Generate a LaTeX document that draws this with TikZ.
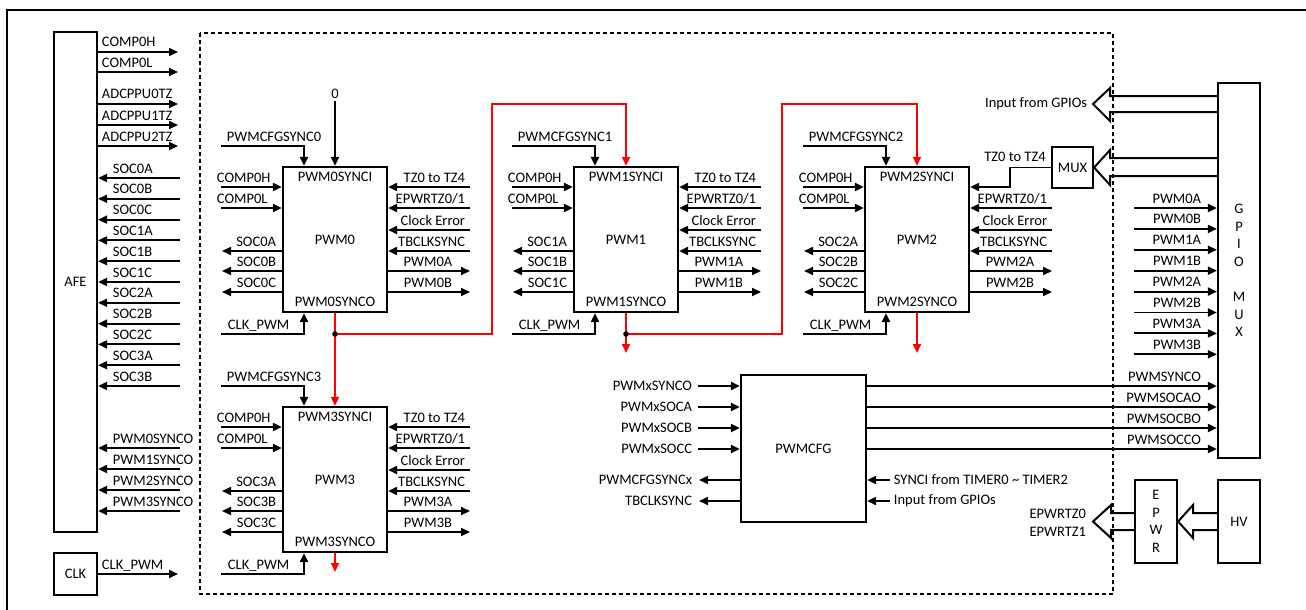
\documentclass[tikz,border=0pt]{standalone}
\usepackage{fontspec}
\setmainfont{Carlito}
\usetikzlibrary{arrows.meta}
\definecolor{syncred}{RGB}{255,0,0}

\begin{document}
\begin{tikzpicture}[
    x=1pt, y=-1pt,
    font=\fontsize{14.5}{17.6}\selectfont,
    >={Triangle[length=9pt, width=8pt]},
    line width=1.9pt,
    box/.style={draw, line width=2.2pt, inner sep=0pt, align=center},
    lbl/.style={inner sep=0pt, anchor=base west},
    rlbl/.style={inner sep=0pt, anchor=base east},
    clbl/.style={inner sep=0pt, anchor=base},
    elbl/.style={inner sep=0pt, anchor=east},
    wlbl/.style={inner sep=0pt, anchor=west},
    sync/.style={draw=syncred, line width=1.7pt},
    hollow/.style={line width=2pt, line join=miter}
]

% ============================================================
% Canvas
% ============================================================
\useasboundingbox (0,0) rectangle (1306,610);
\draw[line width=2.2pt] (7,610) -- (7,10) -- (1306,10);

% Core region
\draw[line width=2.6pt, dash pattern=on 4pt off 3pt] (200,33) rectangle (1113,594);

% ============================================================
% LEFT: AFE and CLK
% ============================================================
\node[box, minimum width=43, minimum height=500] (afe) at (75.5,282) {AFE};
\node[box, minimum width=43, minimum height=42] (clk) at (75.5,574) {CLK};

% AFE outputs
\foreach \y/\t in {52/COMP0H, 72/COMP0L, 104/ADCPPU0TZ, 125/ADCPPU1TZ, 146/ADCPPU2TZ} {
    \draw[->] (afe.east |- 0,\y) -- (178,\y);
    \node[lbl] at (101,\y-5) {\t};
}

% SOC inputs
\foreach \t [count=\i from 0, evaluate=\i as \yy using 178+20.8*\i] in
        {SOC0A,SOC0B,SOC0C,SOC1A,SOC1B,SOC1C,SOC2A,SOC2B,SOC2C,SOC3A,SOC3B} {
    \draw[->] (180,\yy) -- (afe.east |- 0,\yy);
    \node[lbl] at (112,\yy-5) {\t};
}

% SYNCO inputs
\foreach \n [evaluate=\n as \yy using 448+21*\n] in {0,...,3} {
    \draw[->] (180,\yy) -- (afe.east |- 0,\yy);
    \node[lbl] at (112,\yy-5) {PWM\n{}SYNCO};
}

% Clock
\draw[->] (clk.east) -- (178,574);
\node[lbl] at (101,569) {CLK\_PWM};

% ============================================================
% PWM blocks
% ============================================================
\foreach \n/\bx/\by in {0/283/167, 1/574/167, 2/865/167, 3/283/407} {
\begin{scope}[shift={(\bx,\by)}]

    \node[box, minimum width=104, minimum height=145] (pwm\n) at (52,72.5) {};
    \node at (52,10) {PWM\n{}SYNCI};
    \node at (52,73) {PWM\n};
    \node at (52,135) {PWM\n{}SYNCO};

    % Sync and clock entries
    \draw[->] (-62,-21) -- (21,-21) -- (pwm\n.north -| 21,0);
    \node[lbl] at (-57,-26) {PWMCFGSYNC\n};
    \draw[->] (-62,167) -- (21,167) -- (pwm\n.south -| 21,0);
    \node[lbl] at (-56,162) {CLK\_PWM};

    % Comparator inputs
    \foreach \r/\t in {20/COMP0H, 41/COMP0L} {
        \draw[->] (-62,\r) -- (pwm\n.west |- 0,\r);
        \node[lbl] at (-67,\r-5) {\t};
    }

    % SOC outputs
    \foreach \r/\s in {84/A, 104/B, 125/C} {
        \draw[->] (pwm\n.west |- 0,\r) -- (-61,\r);
        \node[rlbl] at (-6,\r-5) {SOC\n\s};
    }

    % Trip inputs
    \ifnum\n=2\relax\else
        \draw[->] (187,20) -- (pwm\n.east |- 0,20);
        \node[rlbl] at (183,15) {TZ0 to TZ4};
    \fi
    \draw[->] (187,41) -- (pwm\n.east |- 0,41);
    \node[rlbl] at (183,36) {EPWRTZ0/1};
    \foreach \r/\t in {63/Clock Error, 84/TBCLKSYNC} {
        \draw[->] (187,\r) -- (pwm\n.east |- 0,\r);
        \node[rlbl] at (183,\r-5) {\t};
    }

    % PWM outputs
    \foreach \r/\s in {104/A, 125/B} {
        \draw[->] (pwm\n.east |- 0,\r) -- (187,\r);
        \node[clbl] at (145,\r-5) {PWM\n\s};
    }

\end{scope}
}

% Fixed sync input of PWM0
\node[inner sep=1pt] (zero) at (335,94) {0};
\draw[->] (zero.south) -- (pwm0.north);

% ============================================================
% Sync chain (red)
% ============================================================
\coordinate (j0) at (335,334);
\coordinate (j1) at (626,334);
\draw[sync, ->] (pwm0.south) -- (pwm3.north);
\draw[sync, ->] (j0) -- (492,334) -- (492,104) -- (626,104) -- (pwm1.north);
\draw[sync, ->] (pwm1.south) -- (626,353);
\draw[sync, ->] (j1) -- (782,334) -- (782,104) -- (917,104) -- (pwm2.north);
\draw[sync, ->] (pwm2.south) -- (917,353);
\draw[sync, ->] (pwm3.south) -- (335,572);
\fill (j0) circle (2.8);
\fill (j1) circle (2.8);

% ============================================================
% MUX for trip zones
% ============================================================
\node[box, minimum width=41, minimum height=41] (mux) at (1072.5,167.5) {MUX};
\draw[->] (mux.west) -- (1010,167.5) -- (1010,187) -- (pwm2.east |- 0,187);
\node[clbl] at (1015,161) {TZ0 to TZ4};

% ============================================================
% PWMCFG
% ============================================================
\node[box, minimum width=125, minimum height=147] (cfg) at (803.5,448.5) {PWMCFG};

\foreach \y/\t in {386/PWMxSYNCO, 407/PWMxSOCA, 428/PWMxSOCB, 449/PWMxSOCC} {
    \draw[->] (698,\y) -- (cfg.west |- 0,\y);
    \node[elbl] at (693,\y) {\t};
}
\foreach \y/\t in {480/PWMCFGSYNCx, 501/TBCLKSYNC} {
    \draw[->] (cfg.west |- 0,\y) -- (699,\y);
    \node[elbl] at (693,\y) {\t};
}
\foreach \y/\t in {480/SYNCI from TIMER0 \textasciitilde{} TIMER2, 501/Input from GPIOs} {
    \draw[->] (890,\y) -- (cfg.east |- 0,\y);
    \node[wlbl] at (893,\y) {\t};
}

% ============================================================
% RIGHT: GPIO MUX
% ============================================================
\node[box, minimum width=42, minimum height=375] (gpio) at (1239,270.5)
    {G\\P\\I\\O\\[17.6pt]M\\U\\X};

\foreach \t [count=\i from 0, evaluate=\i as \yy using 208+20.9*\i] in
        {PWM0A,PWM0B,PWM1A,PWM1B,PWM2A,PWM2B,PWM3A,PWM3B} {
    \draw[->] (1134,\yy) -- (gpio.west |- 0,\yy);
    \node[rlbl] at (1202,\yy-5) {\t};
}

\foreach \y/\t in {386/PWMSYNCO, 407/PWMSOCAO, 428/PWMSOCBO, 449/PWMSOCCO} {
    \draw[->] (cfg.east |- 0,\y) -- (gpio.west |- 0,\y);
    \node[rlbl] at (1202,\y-5) {\t};
}

% Wide buses out of GPIO MUX
\draw[hollow] (gpio.west |- 0,96) -- (1110,96) -- (1110,88) -- (1093,104)
    -- (1110,121) -- (1110,112) -- (gpio.west |- 0,112);
\node[elbl] at (1088,104) {Input from GPIOs};
\draw[hollow] (gpio.west |- 0,158) -- (1110,158) -- (1110,150) -- (mux.east)
    -- (1110,185) -- (1110,176) -- (gpio.west |- 0,176);

% ============================================================
% EPWR and HV
% ============================================================
\node[box, minimum width=42, minimum height=83] (epwr) at (1156,521.5) {E\\P\\W\\R};
\node[box, minimum width=42, minimum height=83] (hv) at (1239,521.5) {HV};

\draw[hollow] (hv.west |- 0,513) -- (1193,513) -- (1193,505) -- (epwr.east)
    -- (1193,538) -- (1193,530) -- (hv.west |- 0,530);
\coordinate (epwrout) at (1093,521.5);
\draw[hollow] (epwr.west |- 0,513) -- (1111,513) -- (1111,505) -- (epwrout)
    -- (1111,538) -- (1111,530) -- (epwr.west |- 0,530);
\node[elbl] at (1087,514) {EPWRTZ0};
\node[elbl] at (1087,532) {EPWRTZ1};

\end{tikzpicture}
\end{document}
